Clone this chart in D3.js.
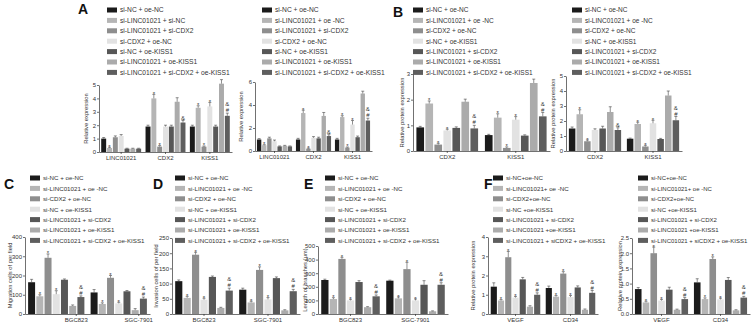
<!DOCTYPE html>
<html lang="en">
<head>
<meta charset="UTF-8">
<title>LINC01021 / CDX2 / KISS1</title>
<script src="https://cdn.jsdelivr.net/npm/d3@7"></script>
<style>
  body { margin: 0; background: #fff; }
  text { font-family: "Liberation Sans", Arial, sans-serif; fill: #333; }
</style>
</head>
<body>
<script>

    // groups on the x axes
    var groupsA = ["LINC01021", "CDX2", "KISS1"];
    var groupsB = ["CDX2", "KISS1"];
    var groupsCell = ["BGC823", "SGC-7901"];
    var groupsF = ["VEGF", "CD34"];

    // legends
    var legendA1 = ["si-NC + oe-NC", "si-LINC01021 + si-NC", "si-LINC01021 + si-CDX2", "si-CDX2 + oe-NC",
        "si-NC + oe-KISS1", "si-LINC01021 + oe-KISS1", "si-LINC01021 + si-CDX2 + oe-KISS1"];
    var legendA2 = ["si-NC + oe-NC", "si-LINC01021 + oe -NC", "si-LINC01021 + si-CDX2", "si-CDX2 + oe-NC",
        "si-NC + oe-KISS1", "si-LINC01021 + oe-KISS1", "si-LINC01021 + si-CDX2 + oe-KISS1"];
    var legendStd = ["si-NC + oe-NC", "si-LINC01021 + oe -NC", "si-CDX2 + oe-NC", "si-NC + oe-KISS1",
        "si-LINC01021 + si-CDX2", "si-LINC01021 + oe-KISS1", "si-LINC01021 + si-CDX2 + oe-KISS1"];
    var legendF = ["si-NC+oe-NC", "si-LINC01021+ oe -NC", "si-CDX2+oe-NC", "si-NC +oe-KISS1",
        "si-LINC01021 + si-CDX2", "si-LINC01021 +oe-KISS1", "si-LINC01021 + siCDX2 + oe-KISS1"];

    // values, one row per group, 7 bars each
    var a1Values = [[1.0, 0.3, 1.1, 1.2, 0.25, 0.25, 0.25], [1.9, 4.0, 0.4, 1.9, 1.9, 3.75, 2.2], [1.9, 3.3, 0.4, 3.4, 1.9, 5.1, 2.7]];
    var a1Errors = [[0.08, 0.05, 0.1, 0.1, 0.03, 0.03, 0.03], [0.1, 0.3, 0.08, 0.1, 0.1, 0.3, 0.15], [0.1, 0.15, 0.05, 0.3, 0.1, 0.3, 0.2]];
    var a2Values = [[1.0, 0.5, 1.1, 0.85, 0.4, 0.45, 0.4], [1.0, 3.3, 0.2, 1.15, 1.1, 3.05, 1.3], [1.0, 2.95, 0.3, 2.3, 1.2, 5.0, 2.65]];
    var a2Errors = [[0.08, 0.05, 0.1, 0.1, 0.04, 0.04, 0.04], [0.1, 0.25, 0.05, 0.1, 0.1, 0.3, 0.12], [0.1, 0.12, 0.05, 0.35, 0.1, 0.2, 0.2]];
    var b1Values = [[0.92, 1.85, 0.25, 0.8, 0.9, 1.92, 0.88], [0.62, 1.3, 0.12, 1.22, 0.6, 2.65, 1.35]];
    var b1Errors = [[0.04, 0.1, 0.05, 0.05, 0.04, 0.1, 0.12], [0.03, 0.15, 0.04, 0.12, 0.03, 0.15, 0.15]];
    var b2Values = [[1.5, 2.45, 0.65, 1.4, 1.5, 2.6, 1.4], [0.82, 1.8, 0.3, 1.85, 0.8, 3.7, 2.05]];
    var b2Errors = [[0.1, 0.3, 0.08, 0.08, 0.15, 0.35, 0.15], [0.04, 0.12, 0.08, 0.2, 0.04, 0.3, 0.25]];
    var cValues = [[165, 92, 292, 103, 178, 42, 88], [112, 52, 188, 55, 118, 20, 80]];
    var cErrors = [[15, 8, 20, 18, 4, 5, 6], [15, 6, 12, 6, 4, 8, 8]];
    var dValues = [[108, 53, 195, 47, 122, 20, 77], [80, 38, 145, 48, 118, 12, 75]];
    var dErrors = [[4, 5, 8, 5, 3, 2, 8], [5, 4, 10, 6, 4, 2, 6]];
    var eValues = [[250, 110, 405, 100, 235, 50, 130], [245, 115, 330, 100, 215, 20, 215]];
    var eErrors = [[6, 10, 12, 8, 10, 4, 10], [4, 10, 50, 10, 30, 3, 15]];
    var f1Values = [[1.42, 0.7, 2.95, 0.85, 1.8, 0.38, 1.0], [1.35, 0.9, 2.1, 0.88, 1.38, 0.22, 1.1]];
    var f1Errors = [[0.2, 0.05, 0.3, 0.06, 0.1, 0.05, 0.1], [0.1, 0.06, 0.1, 0.08, 0.08, 0.04, 0.12]];
    var f2Values = [[0.82, 0.38, 2.0, 0.44, 0.8, 0.14, 0.49], [1.04, 0.49, 1.81, 0.48, 1.12, 0.12, 0.54]];
    var f2Errors = [[0.05, 0.04, 0.2, 0.04, 0.08, 0.02, 0.05], [0.12, 0.04, 0.07, 0.04, 0.08, 0.02, 0.04]];

    // significance marks
    var marksA1 = [["", "*", "", "", "", "", ""], ["", "*", "*", "", "", "", "&"], ["", "*", "*", "*", "", "", "&#"]];
    var marksA2 = marksA1;
    var marksTwo = [["", "*", "*", "*", "", "", "&#"], ["", "*", "*", "*", "", "", "&#"]];
    var marksB2 = [["", "*", "*", "", "", "", "&"], ["", "*", "*", "*", "", "", "&#"]];

    var colors = ["#1b1b1b", "#b5b5b5", "#8e8e8e", "#e2e2e2", "#575757", "#ababab", "#5e5e5e"];

    var charts = [
        {groups: groupsA, values: a1Values, errors: a1Errors, marks: marksA1, yMax: 5, ticks: [0, 1, 2, 3, 4, 5], fmt: d3.format("d"),
            box: [99, 232, 152, 85], title: "Relative expression", tx: 88, legend: legendA1, lx: 107, ly: 10, lf: 6.7},
        {groups: groupsA, values: a2Values, errors: a2Errors, marks: marksA2, yMax: 6, ticks: [0, 2, 4, 6], fmt: d3.format("d"),
            box: [255, 372, 151, 82], title: "Relative expression", tx: 243, legend: legendA2, lx: 262, ly: 10, lf: 6.7},
        {groups: groupsB, values: b1Values, errors: b1Errors, marks: marksTwo, yMax: 3, ticks: [0, 1, 2, 3], fmt: d3.format("d"),
            box: [413, 550, 151, 74], title: "Relative protein expression", tx: 404, legend: legendStd, lx: 413, ly: 10, lf: 6.5},
        {groups: groupsB, values: b2Values, errors: b2Errors, marks: marksB2, yMax: 5, ticks: [0, 1, 2, 3, 4, 5], fmt: d3.format("d"),
            box: [566, 682, 151, 76], title: "Relative protein expression", tx: 555, legend: legendStd, lx: 572, ly: 10, lf: 6.5},
        {groups: groupsCell, values: cValues, errors: cErrors, marks: marksTwo, yMax: 400, ticks: [0, 100, 200, 300, 400], fmt: d3.format("d"),
            box: [25, 150, 314, 237], title: "Migration cells of per field", tx: 12, legend: legendStd, lx: 30, ly: 178, lf: 6.2, shift: 20},
        {groups: groupsCell, values: dValues, errors: dErrors, marks: marksTwo, yMax: 250, ticks: [0, 50, 100, 150, 200, 250], fmt: d3.format("d"),
            box: [172, 300, 314, 238], title: "Invasion cells of per field", tx: 158, legend: legendStd, lx: 175, ly: 178, lf: 6.2},
        {groups: groupsCell, values: eValues, errors: eErrors, marks: marksTwo, yMax: 500, ticks: [0, 100, 200, 300, 400, 500], fmt: d3.format("d"),
            box: [318, 448, 314, 246], title: "Length of branches (\u03bcm)", tx: 307, legend: legendStd, lx: 325, ly: 178, lf: 6.2},
        {groups: groupsF, values: f1Values, errors: f1Errors, marks: marksTwo, yMax: 4, ticks: [0, 1, 2, 3, 4], fmt: d3.format("d"),
            box: [488, 598, 314, 237], title: "Relative protein expression", tx: 475, legend: legendF, lx: 493, ly: 178, lf: 6.2},
        {groups: groupsF, values: f2Values, errors: f2Errors, marks: marksTwo, yMax: 2.5, ticks: [0, 0.5, 1, 1.5, 2, 2.5], fmt: d3.format(".1f"),
            box: [632, 750, 314, 238], title: "Relative protein expression", tx: 622, legend: legendF, lx: 638, ly: 178, lf: 6.0}
    ];

    var letters = [{t: "A", x: 78, y: 14}, {t: "B", x: 393, y: 17}, {t: "C", x: 4, y: 189},
        {t: "D", x: 153, y: 189}, {t: "E", x: 304, y: 189}, {t: "F", x: 484, y: 189}];

    var svg = d3.select("body").append("svg")
            .attr("width", 753)
            .attr("height", 324);

    svg.selectAll(".letter")
            .data(letters)
            .enter().append("text")
            .attr("class", "letter")
            .attr("x", function(d) { return d.x; })
            .attr("y", function(d) { return d.y; })
            .style("font-size", "14px")
            .style("font-weight", "bold")
            .style("fill", "#111")
            .text(function(d) { return d.t; });

    charts.forEach(function(c) {
        var g = svg.append("g");
        var x = d3.scaleBand().domain(c.groups).range([c.box[0], c.box[1]]).paddingInner(0.06).paddingOuter(0.03);
        var xi = d3.scaleBand().domain(d3.range(7)).range([0, x.bandwidth()]).padding(0.15);
        var y = d3.scaleLinear().domain([0, c.yMax]).range([c.box[2], c.box[3]]);

        // legend
        var lg = g.append("g").attr("transform", "translate(" + c.lx + "," + c.ly + ")");
        c.legend.forEach(function(label, i) {
            lg.append("rect").attr("x", 0).attr("y", i * 10.4 - 2.5).attr("width", 10).attr("height", 5)
                    .style("fill", colors[i]);
            lg.append("text").attr("x", 13).attr("y", i * 10.4 + 2.3)
                    .style("font-size", c.lf + "px").text(label);
        });

        // bars
        c.groups.forEach(function(grp, gi) {
            var bg = g.append("g").attr("transform", "translate(" + x(grp) + ",0)");
            var rows = c.values[gi].map(function(v, i) {
                return {v: v, e: c.errors[gi][i], m: c.marks[gi][i], i: i};
            });
            bg.selectAll("rect").data(rows).enter().append("rect")
                    .attr("x", function(d) { return xi(d.i); })
                    .attr("y", function(d) { return y(d.v); })
                    .attr("width", xi.bandwidth())
                    .attr("height", function(d) { return y(0) - y(d.v); })
                    .style("fill", function(d) { return colors[d.i]; });
            bg.selectAll(".err").data(rows).enter().append("path")
                    .attr("class", "err")
                    .attr("d", function(d) {
                        var cx = xi(d.i) + xi.bandwidth() / 2, t = y(d.v + d.e);
                        return "M" + cx + "," + y(d.v) + "V" + t + "M" + (cx - 1.5) + "," + t + "H" + (cx + 1.5);
                    })
                    .style("stroke", "#444").style("stroke-width", 0.6).style("fill", "none");
            rows.forEach(function(d) {
                if (!d.m) return;
                var cx = xi(d.i) + xi.bandwidth() / 2, t = y(d.v + d.e) - 1;
                d.m.split("").reverse().forEach(function(ch, k) {
                    bg.append("text").attr("x", cx).attr("y", t - k * 6 + (ch === "*" ? 2.5 : 0))
                            .attr("text-anchor", "middle")
                            .style("font-size", "6px").text(ch);
                });
            });
        });

        // axes
        var ya = g.append("g").attr("transform", "translate(" + c.box[0] + ",0)")
                .call(d3.axisLeft(y).tickValues(c.ticks).tickFormat(c.fmt).tickSize(2).tickSizeOuter(0).tickPadding(1));
        var xa = g.append("g").attr("transform", "translate(0," + c.box[2] + ")")
                .call(d3.axisBottom(x).tickSize(2).tickSizeOuter(0).tickPadding(2));
        if (c.shift) {
            xa.selectAll(".tick").attr("transform", function(d) {
                return "translate(" + (x(d) + x.bandwidth() / 2 + c.shift) + ",0)";
            });
        }
        [ya, xa].forEach(function(a) {
            a.selectAll("path, line").style("stroke", "#333").style("stroke-width", 0.7);
            a.selectAll("text").style("font-size", "6px").style("fill", "#333")
                    .style("font-family", "'Liberation Sans', Arial, sans-serif");
        });

        g.append("text")
                .attr("transform", "translate(" + c.tx + "," + ((c.box[2] + c.box[3]) / 2) + ") rotate(-90)")
                .attr("text-anchor", "middle")
                .style("font-size", "5.8px")
                .text(c.title);
    });

</script>
</body>
</html>
